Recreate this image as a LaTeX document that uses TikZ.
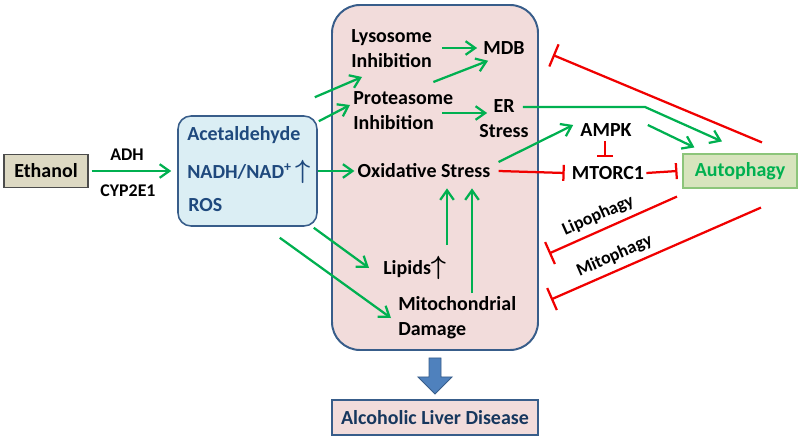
\documentclass[tikz,border=0pt]{standalone}
\usepackage{fontspec}
\usepackage{amsmath}
\setmainfont{Carlito}
\usetikzlibrary{arrows.meta,calc}

\definecolor{arrgreen}{HTML}{00B050}
\definecolor{inhred}{HTML}{F00000}
\definecolor{boxblue}{HTML}{385D8A}
\definecolor{bluefill}{HTML}{DBEEF4}
\definecolor{bluetext}{HTML}{1F497D}
\definecolor{cellpink}{HTML}{F2DCDB}
\definecolor{ethtan}{HTML}{DDD9C3}
\definecolor{autofill}{HTML}{D7E4BD}
\definecolor{autoborder}{HTML}{8CC57A}
\definecolor{navy}{HTML}{17375E}
\definecolor{arrblue}{HTML}{4F81BD}

\newcommand{\upar}{\scalebox{1.3}{$\boldsymbol{\uparrow}$}}

\tikzset{
    every node/.style={font=\bfseries\fontsize{14.2}{17.7}\selectfont, inner sep=0pt},
    small/.style={font=\bfseries\fontsize{12.7}{15}\selectfont},
    bluetxt/.style={text=bluetext, anchor=west},
    grn/.style={draw=arrgreen, line width=1.6pt, -{Straight Barb[length=2.4mm, width=3.4mm]}},
    inh/.style={draw=inhred, line width=1.6pt, -{Bar[width=4mm]}},
    inhbig/.style={draw=inhred, line width=1.6pt, -{Bar[width=6mm]}},
    inhrev/.style={draw=inhred, line width=1.6pt, {Bar[width=6mm]}-}
}

\begin{document}
\begin{tikzpicture}[x=0.025cm, y=-0.025cm]
    \def\px{0.025cm} % one pixel of the layout

    \useasboundingbox (0,0) rectangle (800,439);

    % boxes
    \node[draw=boxblue, line width=1.4pt, fill=cellpink, rounded corners=28*\px,
          minimum width=206*\px, minimum height=345*\px] (cell) at (435,177.5) {};
    \node[draw=boxblue, line width=1.1pt, fill=bluefill, rounded corners=13*\px,
          minimum width=139*\px, minimum height=110*\px] (blue) at (247.5,171) {};
    \node[draw=black!70, line width=0.8pt, fill=ethtan,
          minimum width=84*\px, minimum height=33*\px] (ethanol) at (46,171) {Ethanol};
    \node[draw=autoborder, line width=0.8pt, fill=autofill, text=arrgreen,
          minimum width=114*\px, minimum height=34*\px] (auto) at (740,171) {Autophagy};
    \node[draw=boxblue, line width=0.8pt, fill=cellpink, text=navy,
          minimum width=206*\px, minimum height=35*\px] (ald) at (435,417.5) {Alcoholic Liver Disease};

    \node[small] (adh) at (127,155) {ADH};
    \node[small] (cyp) at (128,191) {CYP2E1};

    \node[bluetxt] (acet) at (187,135) {Acetaldehyde};
    \node[bluetxt] (nadh) at (187,172) {NADH/NAD\textsuperscript{+}\,\upar};
    \node[bluetxt] (ros) at (188,205) {ROS};

    \node[anchor=west, align=left] (lyso) at (351,49) {Lysosome\\Inhibition};
    \node (mdb) at (504,48) {MDB};
    \node[anchor=west, align=left] (prot) at (353,111) {Proteasome\\Inhibition};
    \node[align=center] (er) at (504,119) {ER\\Stress};
    \node (oxi) at (424,171) {Oxidative Stress};
    \node[anchor=west] (lipids) at (383,268) {Lipids\upar};
    \node[anchor=west, align=left] (mito) at (398,318) {Mitochondrial\\Damage};
    \node (ampk) at (606,130) {AMPK};
    \node (mtor) at (608,173) {MTORC1};

    % activation
    \draw[grn] ($(ethanol.east)+(3,0)$) -- ($(blue.west)+(-6,0)$);
    \draw[grn] ($(blue.north east)+(-3,-18)$) -- ($(lyso.west)+(11,28)$);
    \draw[grn] ($(blue.north east)+(1,6)$) -- ($(prot.west)+(-3,-6)$);
    \draw[grn] (blue.east) -- ($(oxi.west)+(-3,0)$);
    \draw[grn] ($(blue.south east)+(-4,1)$) -- ($(lipids.west)+(-14,0)$);
    \draw[grn] ($(blue.south east)+(-38,11)$) -- ($(mito.west)+(-7,0)$);
    \draw[grn] ($(lyso.east)+(10,-1)$) -- ($(mdb.west)+(-6,0)$);
    \draw[grn] ($(prot.east)+(-20,-29)$) -- ($(mdb.south west)+(5,6)$);
    \draw[grn] ($(prot.east)+(-11,2)$) -- ($(er.west)+(8,-6)$);
    \coordinate (lipup) at ($(lipids.west)+(64,-23)$);
    \coordinate (mitoup) at ($(mito.west)+(74,-25)$);
    \draw[grn] (lipup) -- ($(lipup |- oxi.south)+(0,10)$);
    \draw[grn] (mitoup) -- ($(mitoup |- oxi.south)+(0,10)$);
    \coordinate (erbend) at (645,107);
    \draw[grn] ($(er.east)+(-6,-12)$) -- (erbend) -- ($(auto.north)+(-18,-12)$);
    \draw[grn] ($(oxi.east)+(8,-9)$) -- ($(ampk.west)+(-7,-5)$);
    \draw[grn] ($(ampk.east)+(16,-5)$) -- ($(auto.north west)+(12,-6)$);

    % inhibition
    \draw[inh] ($(ampk.south)+(-1,4)$) -- ($(mtor.north)+(-3,-9)$);
    \draw[inh] ($(oxi.east)+(8,0)$) -- ($(mtor.west)+(-7,0)$);
    \draw[inh] ($(mtor.east)+(2,0)$) -- ($(auto.west)+(-5,0)$);
    \draw[inhbig] ($(auto.north)+(22,-11)$) -- ($(mdb.east)+(28,7)$);
    \draw[inhrev] ($(cell.east)+(10,76)$) --
        node[sloped, above=4pt, pos=0.43, small] (lipo) {Lipophagy} ($(auto.south)+(-63,8)$);
    \draw[inhrev] ($(cell.east)+(12,122)$) --
        node[sloped, above=4pt, pos=0.33, small] (mitoph) {Mitophagy} ($(auto.south)+(21,19)$);

    % block arrow
    \filldraw[fill=arrblue, draw=boxblue, line width=0.6pt, shift={(cell.south)}]
        (-6,7) -- (6,7) -- (6,26) -- (17,26) -- (0,43) -- (-17,26) -- (-6,26) -- cycle;
\end{tikzpicture}
\end{document}
